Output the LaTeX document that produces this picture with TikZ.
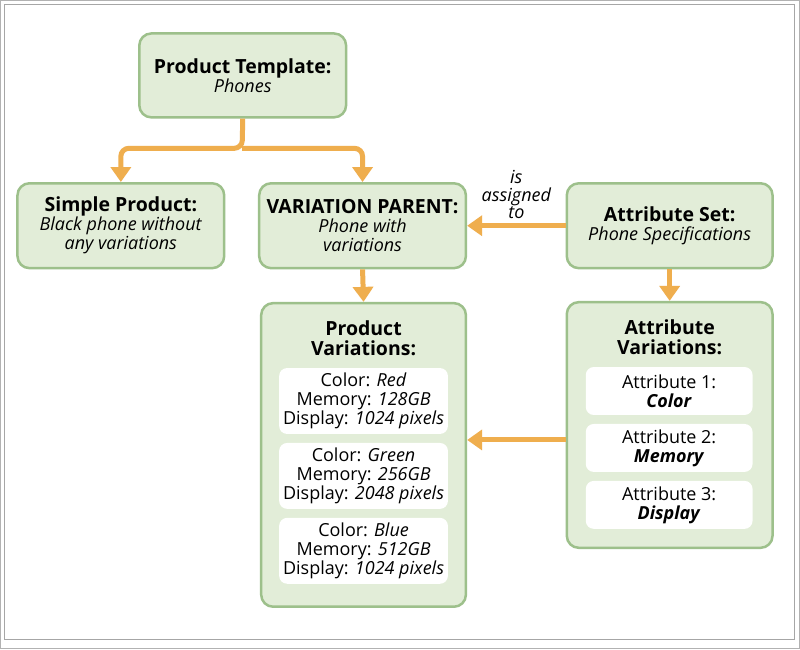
\documentclass[tikz,border=0pt]{standalone}
\usepackage{fontspec}
\setmainfont{Open Sans}
\usetikzlibrary{arrows.meta}
\definecolor{bfill}{HTML}{E2EDD8}
\definecolor{bdraw}{HTML}{9DC08B}
\definecolor{arr}{HTML}{EFAE4E}
\newcommand{\ttl}[1]{{\fontsize{19.5}{19}\selectfont\bfseries #1}}
\begin{document}
\begin{tikzpicture}[x=1pt,y=-1pt,
 box/.style={draw=bdraw,fill=bfill,line width=2.5pt,rounded corners=12pt,inner sep=0pt},
 wbox/.style={fill=white,rounded corners=8pt,inner sep=0pt},
 txt/.style={align=center,font=\fontsize{18}{19}\selectfont},
 ar/.style={draw=arr,line width=5pt,-{Triangle[width=20pt,length=15pt]},rounded corners=8pt}]
\draw[gray!60,line width=1pt,fill=white] (0,0) rectangle (800,649);
\draw[gray!70,line width=0.8pt] (4,4) rectangle (795,640);
\node[box,minimum width=207pt,minimum height=84pt] (tpl) at (242.5,75) {};
\node[txt] at (tpl) {\ttl{Product Template:}\\\textit{Phones}};
\node[box,minimum width=207pt,minimum height=85pt] (sp) at (120.5,225.5) {};
\node[txt] at (sp) {\ttl{Simple Product:}\\\textit{Black phone without}\\\textit{any variations}};
\node[box,minimum width=207pt,minimum height=85pt] (vp) at (362.5,225.5) {};
\node[txt] at (vp) {\ttl{VARIATION PARENT:}\\\textit{Phone with}\\\textit{variations}};
\node[box,minimum width=206pt,minimum height=85pt] (as) at (670,225.5) {};
\node[txt] at (as) {\ttl{Attribute Set:}\\\textit{Phone Specifications}};
\node[box,minimum width=205pt,minimum height=304pt] (pv) at (363.5,455) {};
\node[txt,font=\fontsize{19.5}{19.5}\selectfont\bfseries] (pvt) at (363.5,338) {Product\\Variations:};
\node[box,minimum width=206pt,minimum height=246pt] (av) at (670,425) {};
\node[txt,font=\fontsize{19.5}{19.5}\selectfont\bfseries] (avt) at (670,337) {Attribute\\Variations:};
\node[wbox,minimum width=169pt,minimum height=66pt] (p1) at (363.5,401) {};
\node[txt] at (p1) {Color: \textit{Red}\\Memory: \textit{128GB}\\Display: \textit{1024 pixels}};
\node[wbox,minimum width=169pt,minimum height=66pt] (p2) at (363.5,476) {};
\node[txt] at (p2) {Color: \textit{Green}\\Memory: \textit{256GB}\\Display: \textit{2048 pixels}};
\node[wbox,minimum width=169pt,minimum height=66pt] (p3) at (363.5,551) {};
\node[txt] at (p3) {Color: \textit{Blue}\\Memory: \textit{512GB}\\Display: \textit{1024 pixels}};
\node[wbox,minimum width=167pt,minimum height=48pt] (a1) at (669.5,391) {};
\node[txt] at (a1) {Attribute 1:\\\textbf{\textit{Color}}};
\node[wbox,minimum width=167pt,minimum height=48pt] (a2) at (669.5,448) {};
\node[txt] at (a2) {Attribute 2:\\\textbf{\textit{Memory}}};
\node[wbox,minimum width=167pt,minimum height=48pt] (a3) at (669.5,505) {};
\node[txt] at (a3) {Attribute 3:\\\textbf{\textit{Display}}};
\coordinate (j) at (242,148);
\coordinate (m) at (567,440);
\draw[ar] (tpl.south) -- (j) -| (sp.north);
\draw[ar] (j) -| (vp.north);
\draw[ar] (vp.south) -- (pv.north);
\draw[ar] (as.west) -- node[txt,above=1pt,font=\fontsize{18}{17.5}\selectfont\itshape]{is\\assigned\\to} (vp.east);
\draw[ar] (as.south) -- (av.north);
\draw[ar] (av.west|-m) -- (pv.east|-m);
\end{tikzpicture}
\end{document}
